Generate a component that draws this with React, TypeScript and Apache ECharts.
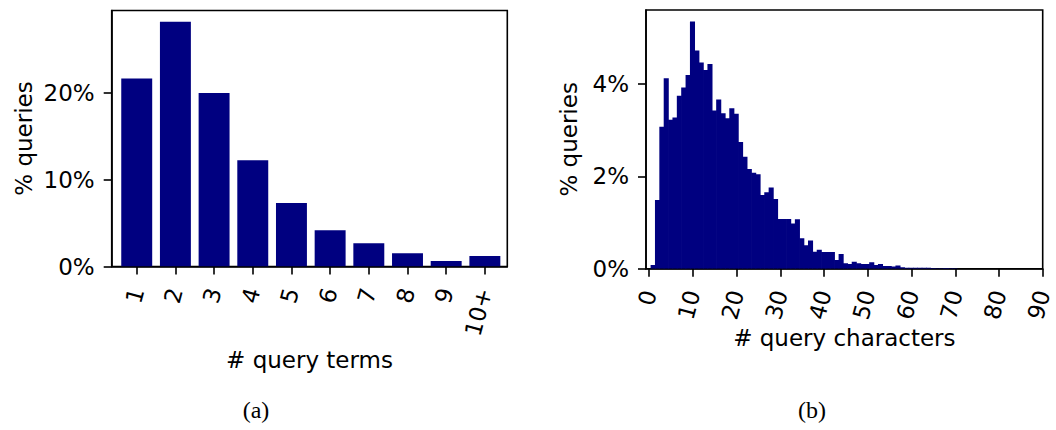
import React, { useEffect, useRef } from "react";
import * as echarts from "echarts";

// Share of queries by number of terms
const termLabels = ["1", "2", "3", "4", "5", "6", "7", "8", "9", "10+"];
const termShares = [21.7, 28.24, 20.01, 12.25, 7.32, 4.18, 2.68, 1.52, 0.63, 1.21];

// Share of queries by number of characters (one bin per length)
const charLengths = [
  1, 2, 3, 4, 5, 6, 7, 8, 9, 10, 11, 12, 13, 14, 15, 16, 17, 18, 19, 20,
  21, 22, 23, 24, 25, 26, 27, 28, 29, 30, 31, 32, 33, 34, 35, 36, 37, 38, 39, 40,
  41, 42, 43, 44, 45, 46, 47, 48, 49, 50, 51, 52, 53, 54, 55, 56, 57, 58, 59, 60,
  61, 62, 63, 64, 65, 66, 67, 68, 69, 70,
];
const charShares = [
  0.08, 1.49, 3.08, 4.13, 3.23, 3.28, 3.75, 3.93, 4.2, 5.36,
  4.73, 4.47, 4.31, 4.44, 3.43, 3.67, 3.37, 3.26, 3.48, 3.36,
  2.75, 2.43, 2.16, 2.08, 2.05, 1.6, 1.66, 1.76, 1.51, 1.08,
  1.08, 1.08, 0.98, 1.07, 0.66, 0.51, 0.61, 0.37, 0.41, 0.36,
  0.36, 0.36, 0.19, 0.32, 0.12, 0.1, 0.15, 0.12, 0.1, 0.1,
  0.14, 0.08, 0.1, 0.06, 0.06, 0.05, 0.07, 0.03, 0.02, 0.02,
  0.02, 0.02, 0.02, 0.02, 0.015, 0.01, 0.01, 0.015, 0.01, 0.01,
];

// Tick positions
const termTicks = [0, 1, 2, 3, 4, 5, 6, 7, 8, 9];
const termPctTicks = [0, 10, 20];
const charTicks = [0, 10, 20, 30, 40, 50, 60, 70, 80, 90];
const charPctTicks = [0, 2, 4];

const NAVY = "#000080";
const FONT = "DejaVu Sans";
const LINE = { color: "#000", width: 1.6 };

const labelStyle = { fontSize: 23, fontFamily: FONT, color: "#000" };

function xAxisCfg(gridIndex: number, min: number, max: number, ticks: number[], fmt: (v: number) => string, name: string, nameGap: number) {
  return {
    gridIndex,
    type: "value",
    min,
    max,
    axisLine: { show: true, onZero: false, lineStyle: LINE },
    axisTick: { show: true, customValues: ticks, length: 8, lineStyle: LINE },
    axisLabel: { customValues: ticks, formatter: fmt, rotate: 75, margin: 22, ...labelStyle },
    splitLine: { show: false },
    name,
    nameLocation: "middle",
    nameGap,
    nameMoveOverlap: false,
    nameTextStyle: labelStyle,
  };
}

function yAxisCfg(gridIndex: number, max: number, ticks: number[], nameGap: number) {
  return {
    gridIndex,
    type: "value",
    min: 0,
    max,
    axisLine: { show: true, onZero: false, lineStyle: LINE },
    axisTick: { show: true, customValues: ticks, length: 8, lineStyle: LINE },
    axisLabel: { customValues: ticks, formatter: (v: number) => `${v}%`, margin: 17, ...labelStyle },
    splitLine: { show: false },
    name: "% queries",
    nameLocation: "middle",
    nameGap,
    nameMoveOverlap: false,
    nameTextStyle: labelStyle,
  };
}

export default function App() {
  const ref = useRef<HTMLDivElement>(null);

  useEffect(() => {
    if (!ref.current) return;
    const chart = echarts.init(ref.current, null, { renderer: "svg" });

    const frame = { show: true, borderColor: "#000", borderWidth: 1.6, backgroundColor: "transparent" };
    const caption = { fontSize: 24, fontFamily: "Liberation Serif", fill: "#000", align: "center", verticalAlign: "middle" };

    chart.setOption({
      animation: false,
      grid: [
        { left: 111.7, top: 10.5, width: 395.6, height: 256, ...frame },
        { left: 646, top: 10, width: 396.7, height: 258.7, ...frame },
      ],
      xAxis: [
        xAxisCfg(0, -0.647, 9.58, termTicks, (v: number) => termLabels[Math.round(v)], "# query terms", 82),
        xAxisCfg(1, -0.73, 90, charTicks, (v: number) => `${v}`, "# query characters", 58),
      ],
      yAxis: [yAxisCfg(0, 29.53, termPctTicks, 76), yAxisCfg(1, 5.61, charPctTicks, 66)],
      series: [
        {
          type: "custom",
          xAxisIndex: 0,
          yAxisIndex: 0,
          clip: true,
          data: termShares.map((v, i) => [i, v]),
          renderItem: (_p: any, api: any) => {
            const i = api.value(0);
            const v = api.value(1);
            const a = api.coord([i - 0.4, v]);
            const b = api.coord([i + 0.4, 0]);
            return {
              type: "rect",
              shape: { x: a[0], y: a[1], width: b[0] - a[0], height: b[1] - a[1] },
              style: { fill: NAVY },
            };
          },
        },
        {
          type: "custom",
          xAxisIndex: 1,
          yAxisIndex: 1,
          clip: true,
          data: charLengths.map((l, i) => [l, charShares[i]]),
          renderItem: (_p: any, api: any) => {
            const l = api.value(0);
            const v = api.value(1);
            const a = api.coord([l - 0.6, v]);
            const b = api.coord([l + 0.4, 0]);
            // slight overlap so neighbouring bins render without seams
            return {
              type: "rect",
              shape: { x: a[0] - 0.35, y: a[1], width: b[0] - a[0] + 0.7, height: b[1] - a[1] },
              style: { fill: NAVY },
            };
          },
        },
      ],
      graphic: [
        { type: "text", x: 256, y: 410, style: { text: "(a)", ...caption } },
        { type: "text", x: 812, y: 410, style: { text: "(b)", ...caption } },
      ],
    });

    return () => chart.dispose();
  }, []);

  return <div ref={ref} style={{ position: "absolute", left: 0, top: 0, width: 1056, height: 430 }} />;
}
